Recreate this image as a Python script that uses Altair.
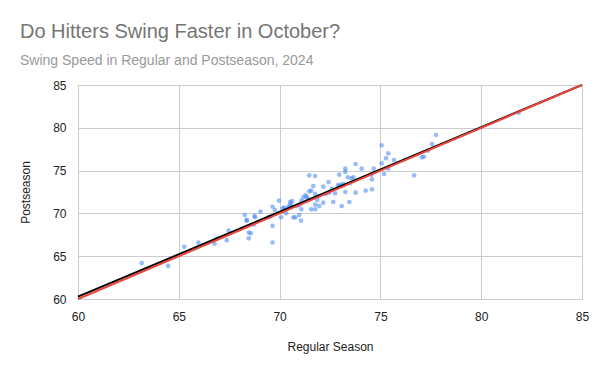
import altair as alt
import pandas as pd

# Swing speed (mph): regular season vs postseason, 2024
regular = [63.16, 64.47, 65.27, 65.97, 66.77, 66.88, 67.38, 67.47, 68.27, 68.37,
           68.37, 68.47, 68.57, 68.47, 68.76, 68.78, 68.72, 69.05, 69.44, 69.52,
           69.65, 69.77, 69.65, 69.65, 69.97, 70.07, 70.15, 70.22, 70.32, 70.42,
           70.52, 70.57, 70.62, 70.68, 70.78, 70.85, 70.98, 71.06, 71.08, 71.08,
           71.18, 71.28, 71.34, 71.47, 71.47, 71.57, 71.57, 71.67, 71.76, 71.76,
           71.77, 71.77, 71.87, 71.95, 71.97, 72.17, 72.17, 72.30, 72.43, 72.46,
           72.66, 72.75, 72.96, 72.96, 73.08, 73.16, 73.26, 73.26, 73.26, 73.38,
           73.46, 72.90, 73.05, 73.49, 73.56, 73.66, 73.77, 73.77, 74.07, 74.27,
           74.55, 74.58, 74.58, 74.67, 75.06, 75.06, 75.18, 75.28, 75.39, 75.39,
           75.67, 76.67, 77.06, 77.16, 77.36, 77.56, 77.76, 81.86, 70.50, 71.00,
           72.60, 71.40]
post = [64.20, 63.86, 66.10, 66.58, 66.48, 67.06, 66.87, 67.98, 69.81, 69.15,
        69.25, 67.77, 67.67, 67.09, 69.70, 69.55, 68.70, 70.20, 69.54, 69.62,
        70.78, 70.40, 68.55, 66.60, 71.49, 69.54, 70.60, 70.67, 70.01, 70.71,
        71.33, 71.10, 71.45, 69.54, 69.54, 70.86, 69.81, 69.15, 70.48, 71.49,
        71.88, 72.11, 71.95, 74.45, 72.58, 70.48, 72.65, 73.20, 74.37, 72.27,
        71.02, 70.48, 71.57, 72.03, 70.86, 73.12, 71.25, 72.27, 73.67, 72.42,
        71.33, 72.35, 74.52, 73.20, 70.86, 73.43, 75.22, 74.84, 72.50, 74.22,
        71.33, 73.30, 73.35, 73.52, 74.10, 74.22, 75.77, 72.42, 75.22, 72.65,
        74.52, 73.98, 72.81, 75.22, 77.95, 75.85, 74.60, 76.44, 77.02, 75.22,
        76.24, 74.45, 76.55, 76.62, 77.32, 78.10, 79.16, 81.76, 70.90, 71.00,
        72.90, 71.70]

# Trendline (black) and y = x reference line (red)
trend_x = [60, 85]
trend_y = [60.27, 85.02]
ref_x = [60, 85]
ref_y = [60, 85]

ticks = [60, 65, 70, 75, 80, 85]

FONT = "Liberation Sans"

pts = pd.DataFrame({"x": regular, "y": post})
trend = pd.DataFrame({"x": trend_x, "y": trend_y})
ref = pd.DataFrame({"x": ref_x, "y": ref_y})

xs = alt.Scale(domain=[60, 85], nice=False, zero=False)
ys = alt.Scale(domain=[60, 85], nice=False, zero=False)

common_axis = dict(values=ticks, grid=True, gridColor="#cccccc", domainColor="#cccccc",
                   ticks=False, labelFont=FONT, titleFont=FONT, labelFontSize=12,
                   titleFontSize=12, labelColor="#222222", titleColor="#222222",
                   titleFontWeight="normal", labelPadding=12, labelFlush=False)

x_axis = alt.Axis(title="Regular Season", titlePadding=19, **common_axis)
y_axis = alt.Axis(title="Postseason", titlePadding=20, **common_axis)

points = alt.Chart(pts).mark_circle(size=22, color="#4285f4", opacity=0.55).encode(
    x=alt.X("x:Q", scale=xs, axis=x_axis),
    y=alt.Y("y:Q", scale=ys, axis=y_axis),
)

trend_line = alt.Chart(trend).mark_line(color="#000000", strokeWidth=2).encode(
    x=alt.X("x:Q", scale=xs, axis=x_axis),
    y=alt.Y("y:Q", scale=ys, axis=y_axis),
)

ref_line = alt.Chart(ref).mark_line(color="#e8453c", strokeWidth=2).encode(
    x=alt.X("x:Q", scale=xs, axis=x_axis),
    y=alt.Y("y:Q", scale=ys, axis=y_axis),
)

chart = alt.layer(points, trend_line, ref_line).properties(
    width=504,
    height=214,
    autosize=alt.AutoSizeParams(type="none"),
    padding={"left": 70, "top": 77, "right": 10, "bottom": 60},
    title=alt.TitleParams(
        text="Do Hitters Swing Faster in October?",
        subtitle="Swing Speed in Regular and Postseason, 2024",
        anchor="start",
        frame="group",
        dx=-58,
        offset=11,
        font=FONT,
        fontSize=20,
        fontWeight="normal",
        color="#757575",
        subtitleFont=FONT,
        subtitleFontSize=14,
        subtitleColor="#999999",
        subtitlePadding=12,
    ),
).configure_view(stroke=None).configure(background="white")

chart.save("out.html", embed_options={"renderer": "svg", "actions": False})
